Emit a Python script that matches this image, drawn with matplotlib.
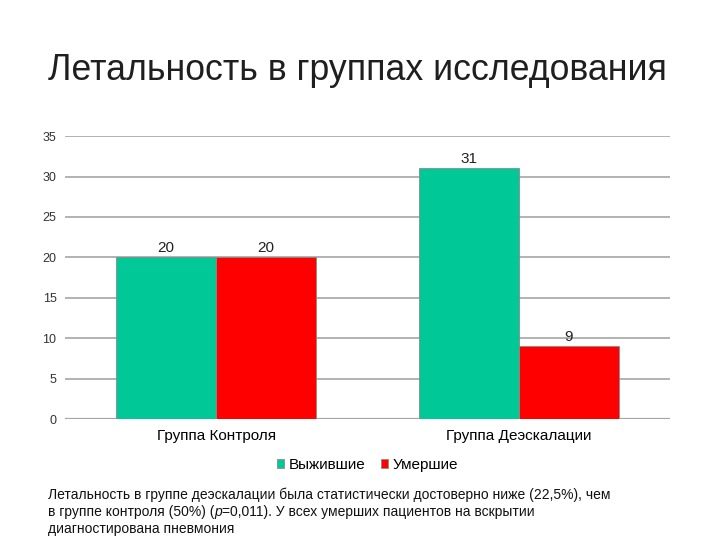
import numpy as np
import matplotlib.pyplot as plt
import matplotlib as mpl

plt.rcParams['font.family'] = ['Liberation Sans', 'DejaVu Sans']

groups = ["Группа Контроля", "Группа Деэскалации"]
series_names = ["Выжившие", "Умершие"]
survived = [20, 31]
died = [20, 9]
colors = ["#00C896", "#FF0000"]
y_ticks = [0, 5, 10, 15, 20, 25, 30, 35]

title = "Летальность в группах исследования"
note_lines = ["Летальность в группе деэскалации была статистически достоверно ниже (22,5%), чем",
              "в группе контроля (50%) (",
              "диагностирована пневмония"]

fig = plt.figure(figsize=(7.2, 5.4), dpi=100)
ax = fig.add_axes([0.090, 0.224, 0.841, 0.524])

x = np.arange(len(groups))
w = 0.33
for i, (vals, name) in enumerate(zip([survived, died], series_names)):
    bars = ax.bar(x + (i - 0.5) * w, vals, w, color=colors[i], edgecolor="#8a8a8a",
                  linewidth=0.6, label=name, zorder=3)
    for b, v in zip(bars, vals):
        ax.text(b.get_x() + b.get_width() / 2, v + 0.3, str(v), ha="center", va="bottom",
                fontsize=11, color="#222222", zorder=4)

ax.set_xlim(-0.5, 1.5)
ax.set_ylim(0, 35)
ax.set_yticks(y_ticks)
ax.yaxis.grid(True, color="#a6a6a6", linewidth=1.2, zorder=0)
ax.tick_params(axis="y", length=0, labelsize=9, colors="#333333", pad=6)
ax.tick_params(axis="x", length=0, labelsize=11, pad=7)
ax.set_xticks(x)
ax.set_xticklabels(groups)
for s in ax.spines.values():
    s.set_visible(False)
ax.axhline(0, color="#a6a6a6", linewidth=1.6, zorder=2)

ax.legend(loc="upper center", bbox_to_anchor=(0.5, -0.09), ncol=2, frameon=False,
          fontsize=11, handlelength=0.5, handleheight=0.5, handletextpad=0.3,
          columnspacing=1.0)

fig.text(0.497, 0.870, title, ha="center", va="center", fontsize=25.7, color="#1f1f1f")

# подпись снизу: три строки, во второй курсивная p
nx, ny, dy = 0.067, 0.0755, 0.0315
kw = dict(ha="left", va="baseline", fontsize=10, color="#111111")
fig.text(nx, ny, note_lines[0], **kw)
t = fig.text(nx, ny - dy, note_lines[1], **kw)
fig.canvas.draw()
bb = t.get_window_extent().transformed(fig.transFigure.inverted())
t2 = fig.text(bb.x1, ny - dy, "p", style="italic", **kw)
fig.canvas.draw()
bb = t2.get_window_extent().transformed(fig.transFigure.inverted())
fig.text(bb.x1, ny - dy, "=0,011). У всех умерших пациентов на вскрытии", **kw)
fig.text(nx, ny - 2 * dy, note_lines[2], **kw)

fig.savefig("out.png", dpi=100)
